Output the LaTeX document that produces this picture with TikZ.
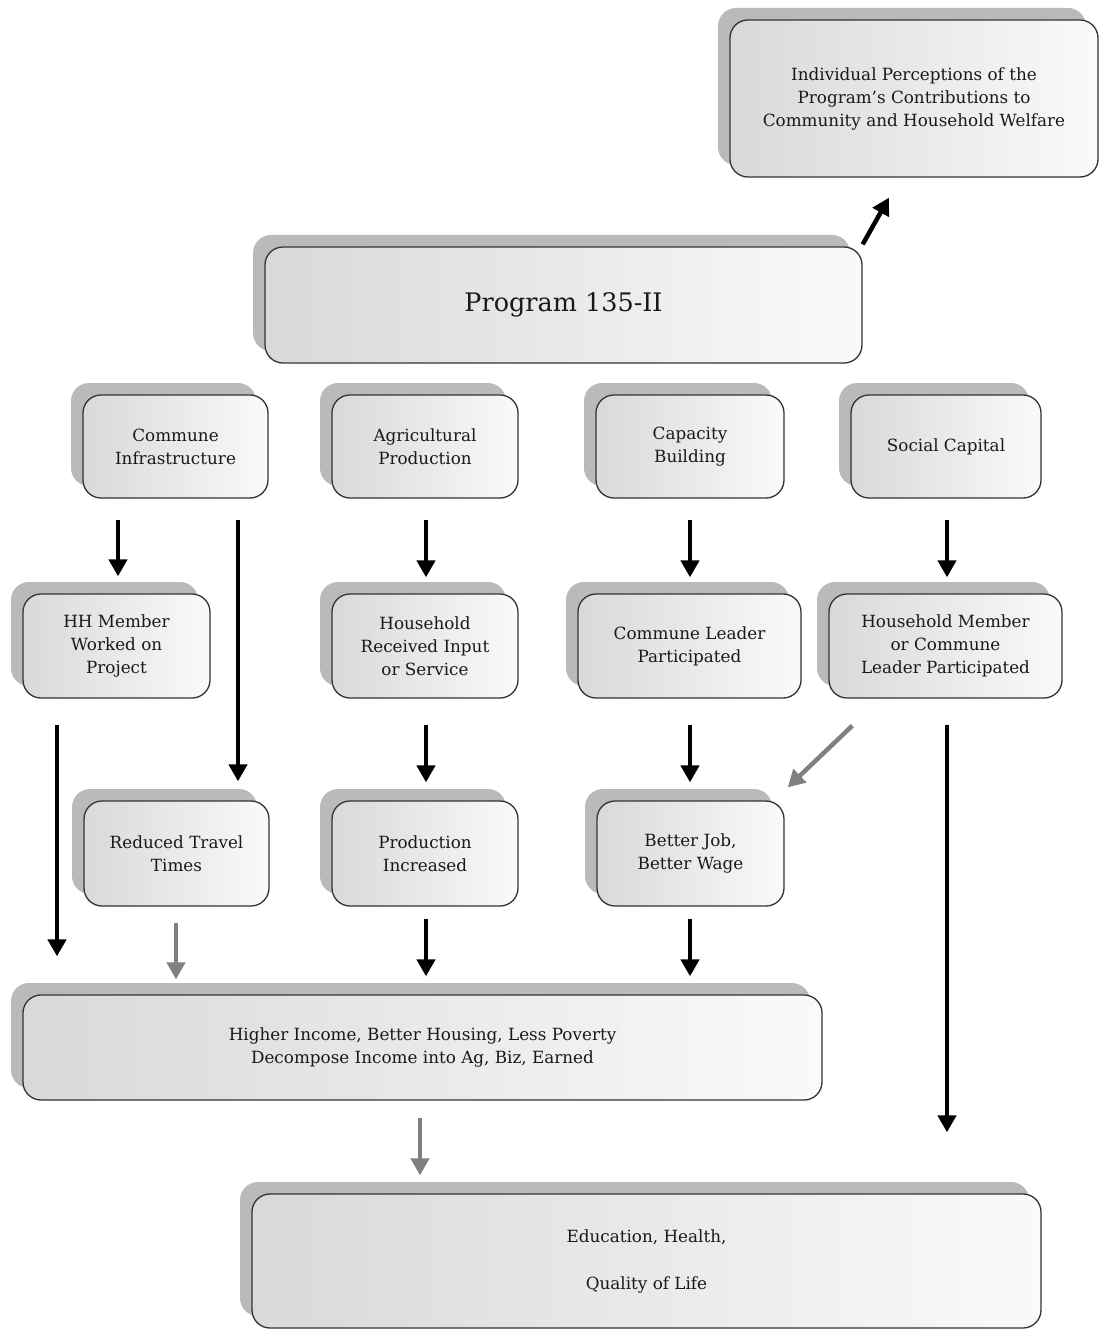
\documentclass[tikz,border=0pt]{standalone}
\usepackage{fontspec}
\setmainfont{DejaVu Serif}
\usetikzlibrary{shadows,arrows.meta}
\begin{document}
\begin{tikzpicture}[x=1pt,y=-1pt,
  box/.style={rounded corners=18pt, draw=black!80, line width=1.3pt,
    left color=black!15, right color=black!2, text=black!90,
    align=center, inner sep=0pt, font=\fontsize{16.8}{23}\selectfont,
    general shadow={fill=black!27, shadow xshift=-12pt, shadow yshift=12pt}},
  arr/.style={line width=4.5pt, black, -{Triangle[width=18pt,length=17pt]}},
  garr/.style={arr, draw=black!50}]
\useasboundingbox (0,0) rectangle (1101,1329);
\node[box, minimum width=368pt, minimum height=157pt] (ip) at (914,98.5)
  {Individual Perceptions of the\\Program's Contributions to\\Community and Household Welfare};
\node[box, minimum width=597pt, minimum height=116pt, font=\fontsize{25.5}{30}\selectfont] (prog) at (563.5,305) {Program 135-II};
\node[box, minimum width=185pt, minimum height=103pt] (ci) at (175.5,446.5) {Commune\\Infrastructure};
\node[box, minimum width=186pt, minimum height=103pt] (ap) at (425,446.5) {Agricultural\\Production};
\node[box, minimum width=188pt, minimum height=103pt] (cb) at (690,446.5) {Capacity\\Building};
\node[box, minimum width=190pt, minimum height=103pt] (sc) at (946,446.5) {Social Capital};
\node[box, minimum width=187pt, minimum height=104pt] (hh) at (116.5,646) {HH Member\\Worked on\\Project};
\node[box, minimum width=186pt, minimum height=104pt] (hr) at (425,646) {Household\\Received Input\\or Service};
\node[box, minimum width=223pt, minimum height=104pt] (cl) at (689.5,646) {Commune Leader\\Participated};
\node[box, minimum width=233pt, minimum height=104pt] (hm) at (945.5,646) {Household Member\\or Commune\\Leader Participated};
\node[box, minimum width=185pt, minimum height=105pt] (rt) at (176.5,853.5) {Reduced Travel\\Times};
\node[box, minimum width=186pt, minimum height=105pt] (pi) at (425,853.5) {Production\\Increased};
\node[box, minimum width=187pt, minimum height=105pt] (bj) at (690.5,853.5) {Better Job,\\Better Wage};
\node[box, minimum width=799pt, minimum height=105pt] (hi) at (422.5,1047.5) {Higher Income, Better Housing, Less Poverty\\Decompose Income into Ag, Biz, Earned};
\node[box, minimum width=789pt, minimum height=134pt, font=\fontsize{16.8}{47}\selectfont] (ed) at (646.5,1261) {Education, Health,\\Quality of Life};
% connectors
\draw[arr] ([shift={(0,-2)}]prog.north east) -- ([shift={(-25,20)}]ip.south);
\coordinate (s1) at ([xshift=-57.5pt]ci.south);
\draw[arr, shorten <=21pt, shorten >=17pt] (s1) -- (s1 |- hh.north);
\coordinate (s2) at ([xshift=62.5pt]ci.south);
\draw[arr, shorten <=21pt, shorten >=19pt] (s2) -- (s2 |- rt.north);
\coordinate (s3) at ([xshift=1pt]ap.south);
\draw[arr, shorten <=21pt, shorten >=16pt] (s3) -- (s3 |- hr.north);
\coordinate (s4) at (cb.south);
\draw[arr, shorten <=21pt, shorten >=16pt] (s4) -- (s4 |- cl.north);
\coordinate (s5) at ([xshift=1pt]sc.south);
\draw[arr, shorten <=21pt, shorten >=16pt] (s5) -- (s5 |- hm.north);
\coordinate (s6) at ([xshift=-59.5pt]hh.south);
\draw[arr, shorten <=26pt, shorten >=38pt] (s6) -- (s6 |- hi.north);
\coordinate (s7) at ([xshift=1pt]hr.south);
\draw[arr, shorten <=26pt, shorten >=18pt] (s7) -- (s7 |- pi.north);
\coordinate (s8) at ([xshift=0.5pt]cl.south);
\draw[arr, shorten <=26pt, shorten >=18pt] (s8) -- (s8 |- bj.north);
\coordinate (s9) at ([xshift=1.5pt]hm.south);
\draw[arr, shorten <=26pt, shorten >=61pt] (s9) -- (s9 |- ed.north);
\coordinate (s10) at ([xshift=-0.5pt]rt.south);
\draw[garr, shorten <=16pt, shorten >=15pt] (s10) -- (s10 |- hi.north);
\coordinate (s11) at ([xshift=1pt]pi.south);
\draw[arr, shorten <=12pt, shorten >=18pt] (s11) -- (s11 |- hi.north);
\coordinate (s12) at ([xshift=-0.5pt]bj.south);
\draw[arr, shorten <=12pt, shorten >=18pt] (s12) -- (s12 |- hi.north);
\coordinate (s13) at ([xshift=-2.5pt]hi.south);
\draw[garr, shorten <=17pt, shorten >=18pt] (s13) -- (s13 |- ed.north);
\draw[garr] ([shift={(24,27)}]hm.south west) -- ([shift={(3,-13)}]bj.north east);
\end{tikzpicture}
\end{document}
